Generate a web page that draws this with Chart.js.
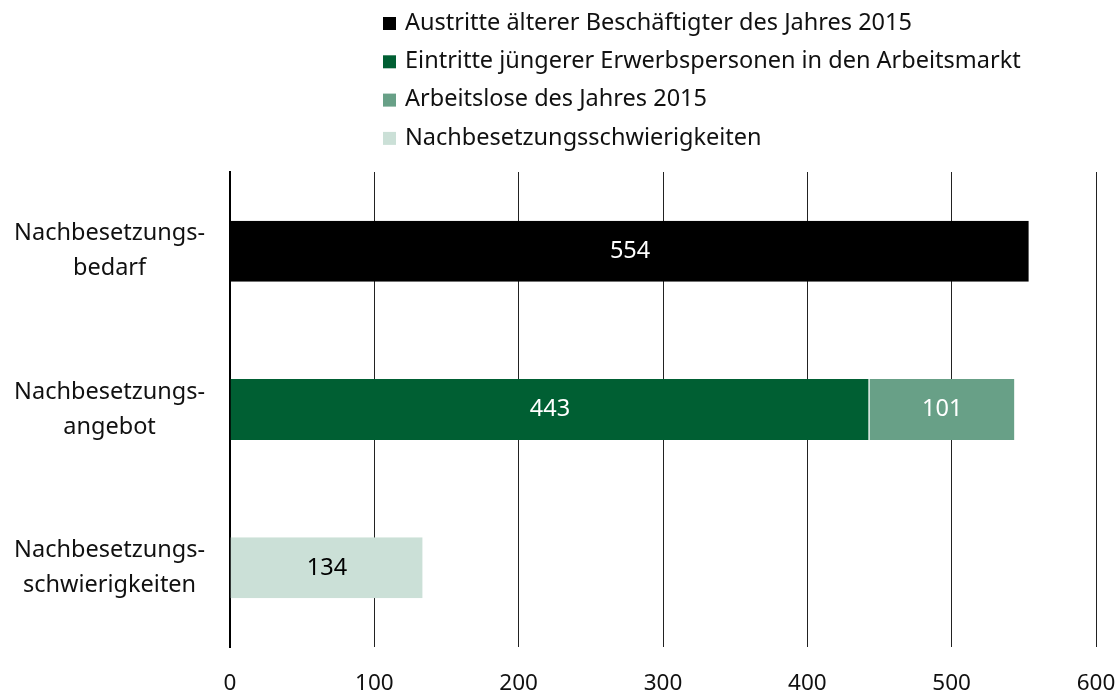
<!DOCTYPE html>
<html lang="de">
<head>
    <meta charset="UTF-8">
    <title>Nachbesetzung</title>
    <script src="https://cdn.jsdelivr.net/npm/chart.js@4.4.0/dist/chart.umd.min.js"></script>
    <style>
        body {
            margin: 0;
            background: #fff;
        }
        .container {
            width: 1118px;
            height: 693px;
        }
    </style>
</head>
<body>
<div class="container">
    <canvas id="myChart" width="1118" height="693"></canvas>
</div>

<script>
    var categories = [
        ["Nachbesetzungs-", "bedarf"],
        ["Nachbesetzungs-", "angebot"],
        ["Nachbesetzungs-", "schwierigkeiten"]
    ];
    var seriesNames = [
        "Austritte älterer Beschäftigter des Jahres 2015",
        "Eintritte jüngerer Erwerbspersonen in den Arbeitsmarkt",
        "Arbeitslose des Jahres 2015",
        "Nachbesetzungsschwierigkeiten"
    ];
    var austritte = [554, null, null];
    var eintritte = [null, 443, null];
    var arbeitslose = [null, 101, null];
    var schwierigkeiten = [null, null, 134];
    var xTicks = [0, 100, 200, 300, 400, 500, 600];

    var colors = ["#000000", "#005f33", "#68a087", "#cbe0d7"];
    var labelColors = ["#ffffff", "#ffffff", "#ffffff", "#000000"];
    var fontFamily = "'Noto Sans', sans-serif";
    var fontSize = 23.5;

    var chartData = {
        labels: categories,
        datasets: [austritte, eintritte, arbeitslose, schwierigkeiten].map(function (values, i) {
            return {
                label: seriesNames[i],
                data: values,
                backgroundColor: colors[i],
                borderColor: "#ffffff",
                borderWidth: {left: 0, right: 1, top: 0, bottom: 0},
                borderSkipped: false,
                barPercentage: 1,
                categoryPercentage: 0.385
            };
        })
    };

    // legend drawn as a vertical list above the plot
    var listLegend = {
        id: "listLegend",
        afterDraw: function (chart) {
            var ctx = chart.ctx;
            ctx.save();
            ctx.font = fontSize + "px " + fontFamily;
            ctx.textBaseline = "middle";
            ctx.textAlign = "left";
            chart.data.datasets.forEach(function (ds, i) {
                var y = 23 + i * 38.3;
                ctx.fillStyle = ds.backgroundColor;
                ctx.fillRect(383, y - 6, 13, 13);
                ctx.fillStyle = "#111";
                ctx.fillText(ds.label, 405, y);
            });
            ctx.restore();
        }
    };

    // numbers in the bars
    var barValues = {
        id: "barValues",
        afterDatasetsDraw: function (chart) {
            var ctx = chart.ctx;
            ctx.save();
            ctx.font = "23.5px " + fontFamily;
            ctx.textAlign = "center";
            ctx.textBaseline = "middle";
            chart.data.datasets.forEach(function (ds, i) {
                var meta = chart.getDatasetMeta(i);
                meta.data.forEach(function (bar, j) {
                    if (ds.data[j] == null) return;
                    ctx.fillStyle = labelColors[i];
                    ctx.fillText(ds.data[j], (bar.x + bar.base) / 2, bar.y);
                });
            });
            ctx.restore();
        }
    };

    var ctx = document.getElementById("myChart").getContext("2d");
    var myChart = new Chart(ctx, {
        type: "bar",
        data: chartData,
        plugins: [listLegend, barValues],
        options: {
            indexAxis: "y",
            responsive: false,
            animation: false,
            layout: {padding: {top: 172, right: 22, left: 0, bottom: 0}},
            plugins: {
                legend: {display: false},
                tooltip: {enabled: false}
            },
            scales: {
                x: {
                    stacked: true,
                    min: 0,
                    max: 600,
                    afterBuildTicks: function (scale) {
                        scale.ticks = xTicks.map(function (v) { return {value: v}; });
                    },
                    afterFit: function (scale) {
                        scale.height = 46;
                        scale.paddingLeft = 0;
                        scale.paddingRight = 0;
                    },
                    grid: {
                        color: "#222",
                        lineWidth: 1,
                        drawTicks: false
                    },
                    border: {display: false},
                    ticks: {
                        color: "#111",
                        font: {family: fontFamily, size: 22.5},
                        padding: 23,
                        maxRotation: 0
                    }
                },
                y: {
                    stacked: true,
                    afterFit: function (scale) {
                        scale.width = 230;
                        scale.paddingTop = 0;
                        scale.paddingBottom = 0;
                    },
                    grid: {display: false, drawTicks: false},
                    border: {display: true, color: "#000", width: 2},
                    ticks: {
                        color: "#111",
                        crossAlign: "center",
                        padding: 25,
                        font: {family: fontFamily, size: fontSize, lineHeight: 1.5}
                    }
                }
            }
        }
    });
</script>
</body>
</html>
